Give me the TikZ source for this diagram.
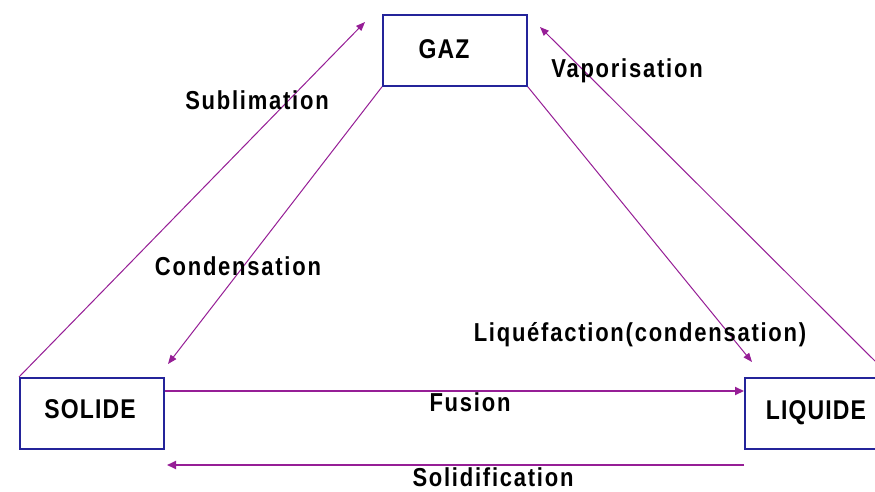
\documentclass[tikz,border=0pt]{standalone}
\usepackage{fontspec}
\usepackage{graphicx}
\setmainfont{Liberation Sans}
\newfontfamily\lblfont[LetterSpace=8]{Liberation Sans}
\newfontfamily\boxfont[LetterSpace=5]{Liberation Sans}
\newcommand{\tallt}[1]{\scalebox{1}[1.18]{#1}}
\usetikzlibrary{arrows.meta}
\definecolor{boxblue}{HTML}{24249A}
\definecolor{arrpurple}{HTML}{961E96}
\begin{document}
\begin{tikzpicture}[x=1pt,y=-1pt,
  statebox/.style={draw=boxblue, line width=1.8pt, minimum width=144pt, minimum height=71pt, inner sep=0pt, anchor=north west},
  boxtext/.style={font=\boxfont\fontsize{23}{27}\selectfont\bfseries, inner sep=0pt},
  lbl/.style={font=\lblfont\fontsize{22}{26}\selectfont\bfseries, text=black, inner sep=0pt},
  conn/.style={draw=arrpurple, line width=1pt, -{Triangle[length=9pt,width=7pt]}},
  thickconn/.style={draw=arrpurple, line width=2pt, -{Triangle[length=9pt,width=8pt]}}
]
\useasboundingbox (0,0) rectangle (875,492);
\clip (0,0) rectangle (875,492);
\fill[white] (0,0) rectangle (875,492);

\node[statebox] (gaz) at (382,14) {};
\node[statebox] (solide) at (19,377) {};
\node[statebox] (liquide) at (744,377) {};
\node[boxtext] (tgaz) at (444,49) {\tallt{GAZ}};
\node[boxtext] (tsolide) at (90,409) {\tallt{SOLIDE}};
\node[boxtext] (tliquide) at (816,413) {\tallt{LIQUIDE}};

\coordinate (subtip) at (365,22);
\coordinate (vapstart) at (890,376);
\coordinate (vaptip) at (540,27);
\coordinate (contip) at (168,364);
\coordinate (liqtip) at (752,362);
\coordinate (soltip) at (167,465);
\coordinate (solstart) at (744,465);

\draw[conn] (solide.north west) -- (subtip);
\draw[conn] (vapstart) -- (vaptip);
\draw[conn] (gaz.south west) -- (contip);
\draw[conn] (gaz.south east) -- (liqtip);
\draw[thickconn] (solide.east |- 0,391) -- (liquide.west |- 0,391);
\draw[thickconn] (solstart) -- (soltip);

\node[lbl] (lsub) at (257,100) {\tallt{Sublimation}};
\node[lbl] (lvap) at (627,71) {\tallt{Vaporisation}};
\node[lbl] (lcon) at (238,266) {\tallt{Condensation}};
\node[lbl] (lliq) at (640,335) {\tallt{Liquéfaction(condensation)}};
\node[lbl] (lfus) at (470,402) {\tallt{Fusion}};
\node[lbl] (lsol) at (493,477) {\tallt{Solidification}};
\end{tikzpicture}
\end{document}
